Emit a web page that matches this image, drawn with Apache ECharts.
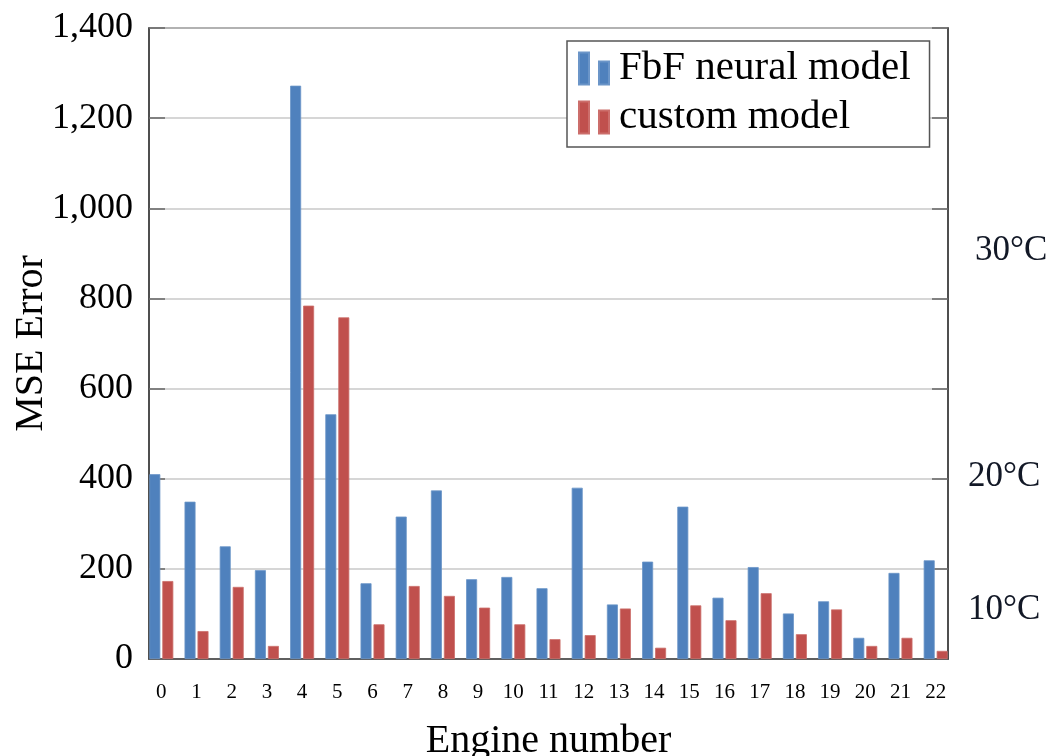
<!DOCTYPE html>
<html>
<head>
<meta charset="utf-8">
<script src="https://cdn.jsdelivr.net/npm/echarts@6/dist/echarts.min.js"></script>
<style>
html,body{margin:0;padding:0;background:#fff;}
#chart{width:1055px;height:756px;}
</style>
</head>
<body>
<div id="chart"></div>
<script>
const engines = [0,1,2,3,4,5,6,7,8,9,10,11,12,13,14,15,16,17,18,19,20,21,22];
const fbfNeural = [410,349,250,197,1272,543,168,316,374,177,182,157,380,121,216,338,136,204,101,128,47,191,219];
const customModel = [173,62,160,29,784,758,77,162,140,114,77,44,53,112,25,119,86,146,55,110,29,47,18];
const seriesNames = ['FbF neural model','custom model'];
const yTicks = [0,200,400,600,800,1000,1200,1400];
const tempLabels = ['30°C','20°C','10°C'];

const serif = 'Liberation Serif';
const chart = echarts.init(document.getElementById('chart'), null, {renderer:'canvas'});
const barIcon = 'path://M0,0 h10 v32 h-10 Z M20,9 h10 v23 h-10 Z';

chart.setOption({
  animation:false,
  backgroundColor:'#ffffff',
  grid:{left:149,right:107,top:28,bottom:97,containLabel:false,outerBoundsMode:'none',
        show:true,borderColor:'#444',borderWidth:1.5,backgroundColor:'transparent'},
  legend:{
    orient:'vertical',left:567,top:41,
    padding:[5,19,7,11],itemGap:4,
    borderColor:'#555',borderWidth:1.5,backgroundColor:'#fff',
    itemWidth:30,itemHeight:32,
    textStyle:{fontFamily:serif,fontSize:41,color:'#000',lineHeight:45,padding:[0,0,0,5]},
    data:seriesNames.map(n=>({name:n,icon:barIcon}))
  },
  xAxis:{
    type:'value',min:-0.35,max:22.35,interval:0.05,
    name:'Engine number',nameLocation:'middle',nameGap:62,nameMoveOverlap:false,
    nameTextStyle:{fontFamily:serif,fontSize:40,color:'#000'},
    axisLine:{show:true,onZero:false,lineStyle:{color:'#444',width:1.5}},
    axisTick:{show:false},
    splitLine:{show:false},
    axisLabel:{margin:23,fontFamily:serif,fontSize:21,color:'#000',
      formatter:v=>{const r=Math.round(v);return (Math.abs(v-r)<1e-6 && engines.indexOf(r)>=0)?String(r):'';}}
  },
  yAxis:[{
    type:'value',min:0,max:1400,interval:200,position:'left',
    name:'MSE Error',nameLocation:'middle',nameGap:98,nameMoveOverlap:false,
    nameTextStyle:{fontFamily:serif,fontSize:40,color:'#000'},
    axisLine:{show:true,onZero:false,lineStyle:{color:'#444',width:1.5}},
    axisTick:{show:true,inside:true,length:16,lineStyle:{color:'#666',width:1.5}},
    splitLine:{show:true,lineStyle:{color:'#c8c8c8',width:1.5}},
    axisLabel:{margin:16,fontFamily:serif,fontSize:36,color:'#000',
      formatter:v=>yTicks.indexOf(v)>=0?v.toLocaleString('en-US'):''}
  },{
    type:'value',min:0,max:1400,interval:200,position:'right',
    axisLine:{show:true,onZero:false,lineStyle:{color:'#444',width:1.5}},
    axisTick:{show:true,inside:true,length:16,lineStyle:{color:'#666',width:1.5}},
    splitLine:{show:false},
    axisLabel:{show:false}
  }],
  series:[{
    name:seriesNames[0],type:'bar',barWidth:11,barGap:'18%',
    itemStyle:{color:'#4F81BD',borderColor:'#6b95c8',borderWidth:0.8},
    data:engines.map((e,i)=>[e,fbfNeural[i]])
  },{
    name:seriesNames[1],type:'bar',barWidth:11,barGap:'18%',
    itemStyle:{color:'#C0504D',borderColor:'#cc6e6b',borderWidth:0.8},
    data:engines.map((e,i)=>[e,customModel[i]])
  }],
  graphic:[
    {type:'text',left:975,top:233,style:{text:tempLabels[0],font:'35px "Liberation Serif"',fill:'#121826'}},
    {type:'text',left:968,top:459,style:{text:tempLabels[1],font:'35px "Liberation Serif"',fill:'#121826'}},
    {type:'text',left:968,top:592,style:{text:tempLabels[2],font:'35px "Liberation Serif"',fill:'#121826'}}
  ]
});
</script>
</body>
</html>
